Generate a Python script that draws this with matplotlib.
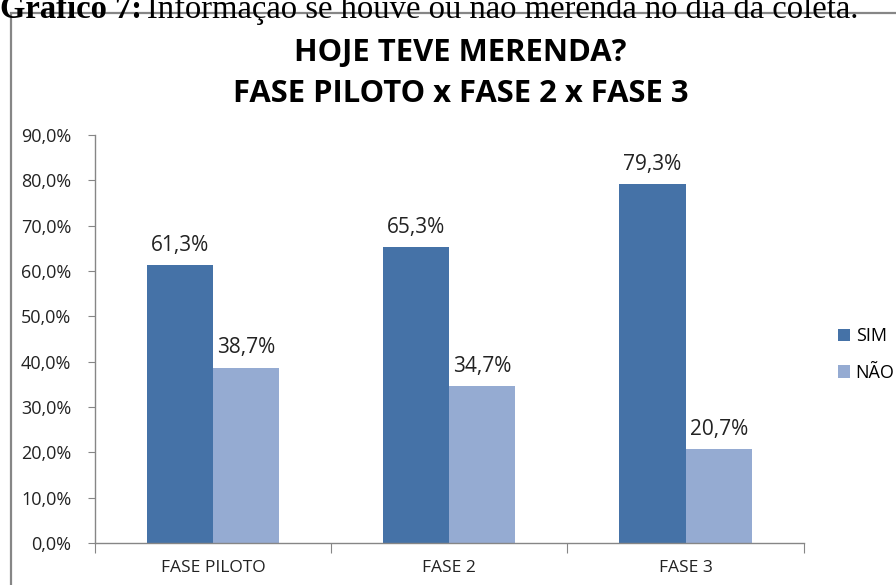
import numpy as np
import matplotlib.pyplot as plt
from matplotlib.patches import Rectangle

# dados
fases = ["FASE PILOTO", "FASE 2", "FASE 3"]
sim = [61.3, 65.3, 79.3]
nao = [38.7, 34.7, 20.7]
yticks = [0, 10, 20, 30, 40, 50, 60, 70, 80, 90]

cor_sim = "#4572A7"
cor_nao = "#95ABD2"
cinza = "#868686"
fonte = ["Open Sans", "DejaVu Sans"]

fig = plt.figure(figsize=(8.96, 5.85), dpi=100)
ax = fig.add_axes([0.106, 0.072, 0.791, 0.697])

# moldura do grafico
fig.patches.append(Rectangle((11 / 896, -0.1), 1.0, 1 - 13 / 585 + 0.1,
                             transform=fig.transFigure, fill=False,
                             edgecolor=cinza, linewidth=1.6))

# legenda do documento (cortada no topo, como no original)
yl = 1 - 18 / 585
t1 = fig.text(0.0, yl, "Gráfico 7:", fontsize=23.5, va="baseline",
              family="Liberation Serif", fontweight="bold")
fig.canvas.draw()
bb = t1.get_window_extent()
fig.text(bb.x1 / 896 + 0.006, yl,
         "Informação se houve ou não merenda no dia da coleta.",
         fontsize=23.5, va="baseline", family="Liberation Serif")

x = np.arange(len(fases))
w = 0.28
b1 = ax.bar(x - w / 2, sim, w, color=cor_sim, label="SIM")
b2 = ax.bar(x + w / 2, nao, w, color=cor_nao, label="NÃO")

for barras, vals in ((b1, sim), (b2, nao)):
    for b, v in zip(barras, vals):
        ax.text(b.get_x() + b.get_width() / 2, v + 2.0,
                f"{v:.1f}%".replace(".", ","), ha="center", va="bottom",
                fontsize=15, family=fonte, color="#222222")

ax.set_xlim(-0.5, 2.5)
ax.set_ylim(0, 90)
ax.set_yticks(yticks)
ax.set_yticklabels([f"{t:.1f}%".replace(".", ",") for t in yticks],
                   fontsize=13, family=fonte, color="#222222")
ax.set_xticks([-0.5, 0.5, 1.5, 2.5])
ax.set_xticklabels([])
ax.set_xticks(x, minor=True)
ax.set_xticklabels(fases, minor=True, fontsize=12.5, family=fonte, color="#222222")
ax.tick_params(axis="x", which="major", length=7, color=cinza, direction="out")
ax.tick_params(axis="x", which="minor", length=0, pad=12)
ax.tick_params(axis="y", length=5, color=cinza, direction="out", pad=12)

for s in ("top", "right"):
    ax.spines[s].set_visible(False)
for s in ("left", "bottom"):
    ax.spines[s].set_color(cinza)
    ax.spines[s].set_linewidth(1.0)

ax.legend(loc="center left", bbox_to_anchor=(1.025, 0.462), frameon=False,
          prop={"family": fonte, "size": 13}, handlelength=0.7,
          handleheight=0.7, handletextpad=0.3, labelspacing=1.0)

fig.text(0.514, 1 - 53 / 585, "HOJE TEVE MERENDA?", ha="center", va="center",
         fontsize=22.3, fontweight="bold", family=fonte)
fig.text(0.514, 1 - 94 / 585, "FASE PILOTO x FASE 2 x FASE 3", ha="center",
         va="center", fontsize=22.3, fontweight="bold", family=fonte)

fig.savefig("out.png", dpi=100)
